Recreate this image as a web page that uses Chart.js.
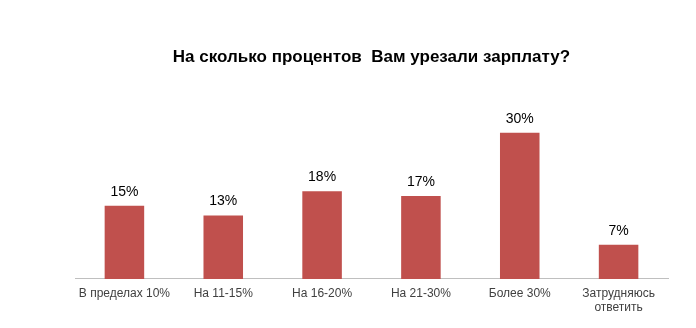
<!DOCTYPE html>
<html>
<head>
<meta charset="utf-8">
<script src="https://cdn.jsdelivr.net/npm/chart.js@4.4.0/dist/chart.umd.min.js"></script>
<style>
  html, body { margin: 0; padding: 0; background: #fff; }
  #wrap { width: 696px; height: 328px; }
</style>
</head>
<body>
<div id="wrap"><canvas id="salaryChart" width="696" height="328"></canvas></div>
<script>
const categories = [
    "В пределах 10%",
    "На 11-15%",
    "На 16-20%",
    "На 21-30%",
    "Более 30%",
    ["Затрудняюсь", "ответить"]
];

const shares = [15, 13, 18, 17, 30, 7];

const chartTitle = "На сколько процентов  Вам урезали зарплату?";

// percent labels above each bar
const valueLabels = {
    id: "valueLabels",
    afterDatasetsDraw(chart){
        const ctx = chart.ctx;
        const meta = chart.getDatasetMeta(0);
        ctx.save();
        ctx.font = "14px 'Liberation Sans', Arial, sans-serif";
        ctx.fillStyle = "#000";
        ctx.textAlign = "center";
        ctx.textBaseline = "bottom";
        meta.data.forEach((bar, i)=>{
            ctx.fillText(shares[i] + "%", bar.x, bar.y - 7);
        });
        ctx.restore();
    }
};

new Chart(document.getElementById("salaryChart").getContext("2d"), {

    type: "bar",

    data: {
        labels: categories,
        datasets: [{
            data: shares,
            backgroundColor: "#C0504D",
            barPercentage: 0.4,
            categoryPercentage: 1
        }]
    },

    options: {
        responsive: false,
        animation: false,
        layout: {
            padding: { left: 75, right: 28, top: 0, bottom: 13 }
        },
        plugins: {
            legend: { display: false },
            tooltip: { enabled: false },
            title: {
                display: true,
                text: chartTitle,
                color: "#000",
                font: { family: "'Liberation Sans', Arial, sans-serif", size: 17, weight: "bold" },
                padding: { top: 47, bottom: 36 }
            }
        },
        scales: {
            x: {
                grid: { display: false },
                border: { display: true, color: "#BFBFBF", width: 1 },
                ticks: {
                    color: "#404040",
                    padding: 0,
                    maxRotation: 0,
                    autoSkip: false,
                    font: { family: "'Liberation Sans', Arial, sans-serif", size: 12, lineHeight: 1.17 }
                }
            },
            y: {
                display: false,
                min: 0,
                max: 36
            }
        }
    },

    plugins: [valueLabels]

});
</script>
</body>
</html>
